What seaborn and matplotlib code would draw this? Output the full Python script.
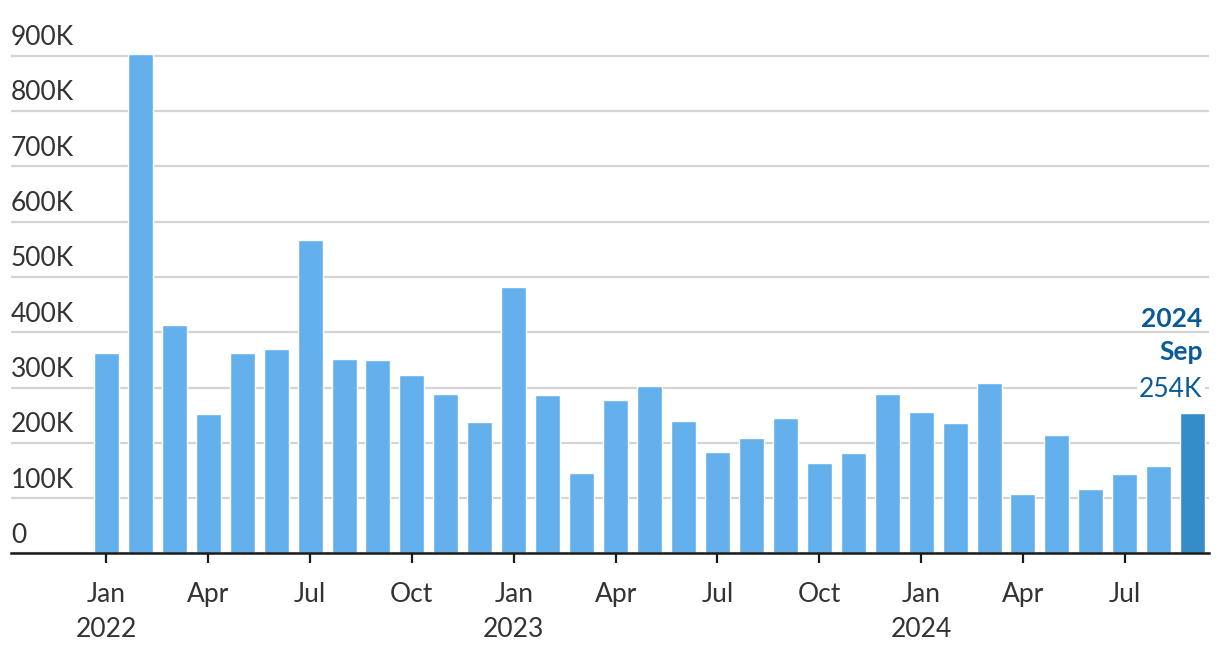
import numpy as np
import pandas as pd
import matplotlib
matplotlib.use("Agg")
import matplotlib.pyplot as plt
import seaborn as sns

# ---- data ----
months = ["Jan", "Feb", "Mar", "Apr", "May", "Jun", "Jul", "Aug", "Sep", "Oct", "Nov", "Dec"] * 2 + \
         ["Jan", "Feb", "Mar", "Apr", "May", "Jun", "Jul", "Aug", "Sep"]
years = [2022] * 12 + [2023] * 12 + [2024] * 9
values = [363, 903, 413, 252, 363, 370, 567, 352, 350, 323, 288, 238,
          482, 287, 146, 278, 303, 240, 184, 209, 245, 164, 182, 288,
          256, 236, 308, 108, 214, 117, 144, 158, 254]
values = [v * 1000 for v in values]
y_ticks = [0, 100000, 200000, 300000, 400000, 500000, 600000, 700000, 800000, 900000]
y_tick_labels = ["0", "100K", "200K", "300K", "400K", "500K", "600K", "700K", "800K", "900K"]
highlight_label = ("2024", "Sep", "254K")

df = pd.DataFrame({"idx": np.arange(len(values)), "month": months, "year": years, "value": values})
df["hl"] = ["base"] * (len(values) - 1) + ["last"]

LIGHT = "#63B0ED"
DARK = "#368CC9"
ANN = "#0B5A98"
TXT = "#333333"

sns.set_theme(style="white")
plt.rcParams["font.family"] = ["Lato", "DejaVu Sans"]

fig = plt.figure(figsize=(12.2, 6.62), dpi=100)
ax = fig.add_axes([0.009, 0.164, 0.982, 0.7936])

sns.barplot(data=df, x="idx", y="value", hue="hl", palette={"base": LIGHT, "last": DARK},
            dodge=False, width=0.737, legend=False, ax=ax, saturation=1)

ax.set_xlim(-2.81, 32.48)
ax.set_ylim(0, 950000)

# gridlines
ax.set_yticks(y_ticks)
ax.yaxis.grid(True, color="#D3D3D3", linewidth=1.6)
ax.set_axisbelow(True)
ax.tick_params(axis="y", left=False, labelleft=False)

# y tick labels above gridlines
for v, lab in zip(y_ticks, y_tick_labels):
    ax.annotate(lab, xy=(0, v), xycoords=("axes fraction", "data"), xytext=(0, 4),
                textcoords="offset points", ha="left", va="bottom", fontsize=19, color=TXT)

for s in ["left", "right", "top"]:
    ax.spines[s].set_visible(False)
ax.spines["bottom"].set_color("#1a1a1a")
ax.spines["bottom"].set_linewidth(1.8)

# x ticks
tick_pos = [i for i in range(len(values)) if months[i] in ("Jan", "Apr", "Jul", "Oct")]
tick_lab = [f"{months[i]}\n{years[i]}" if months[i] == "Jan" else months[i] for i in tick_pos]
ax.set_xticks(tick_pos)
ax.set_xticklabels(tick_lab, fontsize=19, color=TXT, linespacing=1.5)
ax.tick_params(axis="x", bottom=True, length=7, width=1.6, color="#1a1a1a", pad=13.5)
ax.set_xlabel("")
ax.set_ylabel("")

# annotation on last bar
last_i = len(values) - 1
last_v = values[-1]
for txt, dy, wt in [(highlight_label[2], 11.5, "normal"), (highlight_label[1], 38, "bold"),
                    (highlight_label[0], 62, "bold")]:
    kw = {}
    if wt == "normal":
        kw["bbox"] = dict(boxstyle="square,pad=0.1", fc="white", ec="none")
    ax.annotate(txt, xy=(last_i + 0.35, last_v), xytext=(-1.5, dy), textcoords="offset points",
                ha="right", va="baseline", fontsize=19, color=ANN, fontweight=wt, **kw)

fig.savefig("out.png", dpi=100)
